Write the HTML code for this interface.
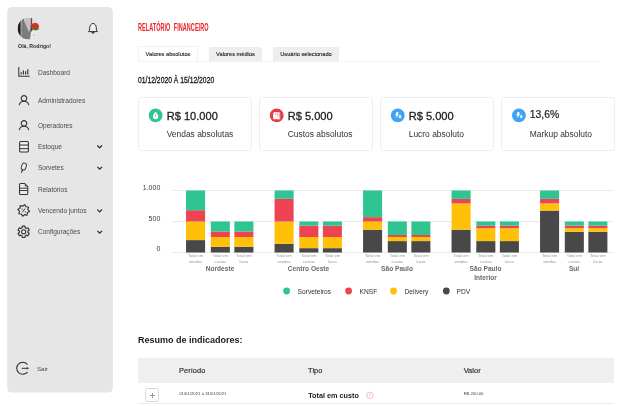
<!DOCTYPE html>
<html lang="pt-BR"><head><meta charset="utf-8"><title>Relatório financeiro</title>
<style>
html,body{margin:0;padding:0;background:#fff;}
body{width:640px;height:406px;position:relative;overflow:hidden;font-family:"Liberation Sans",sans-serif;color:#222;}
.abs,.sl,.card div{position:absolute;}
.side{position:absolute;left:7.2px;top:7.2px;width:105.6px;height:385.2px;background:#e6e6e6;border-radius:5px;}
.sl{left:37.9px;font-size:6.57px;line-height:8px;color:#4a4a4a;white-space:nowrap;}
.hello{left:18.1px;top:43.4px;font-size:5.2px;font-weight:bold;color:#2c2c2c;line-height:6px;white-space:nowrap;}
.title{left:138px;top:21.1px;font-size:10.3px;line-height:13px;font-weight:bold;color:#e8232b;white-space:nowrap;transform-origin:0 0;transform:scaleX(0.533);letter-spacing:0.1px;word-spacing:3.5px;}
.tab{top:47px;height:14px;box-sizing:border-box;font-size:5.7px;line-height:15.4px;text-align:center;color:#1c1c1c;-webkit-text-stroke:0.12px #1c1c1c;white-space:nowrap;border-radius:1.5px 1.5px 0 0;}
.tab.on{top:46px;height:15px;background:#fff;border:1px solid #f1f1f1;border-bottom:none;line-height:15.4px;}
.tab.off{background:#eeeeee;}
.tabline{left:138px;top:61px;width:463px;height:1px;background:#f3f3f3;}
.date{left:138px;top:73.65px;font-size:9.7px;line-height:12px;color:#151515;white-space:nowrap;transform-origin:0 0;transform:scaleX(0.70);-webkit-text-stroke:0.3px #151515;}
.card{position:absolute;top:97px;width:114px;height:54px;box-sizing:border-box;border:1px solid #eeeeee;border-radius:3.5px;background:#fff;}
.cv{left:27.7px;top:10.7px;font-size:11.1px;line-height:14px;color:#1c1c1c;white-space:nowrap;-webkit-text-stroke:0.28px #1c1c1c;}
.cv.pct{top:9.6px;font-size:10.4px;-webkit-text-stroke:0.2px #1c1c1c;}
.cl{left:27.7px;top:31.1px;font-size:8.45px;line-height:10px;color:#333;white-space:nowrap;}
.chart{position:absolute;left:0;top:0;}
.ax{font-size:7px;fill:#3c3c3c;font-family:"Liberation Sans",sans-serif;}
.sub{font-size:4.05px;fill:#959595;font-family:"Liberation Sans",sans-serif;}
.grp{font-size:6.6px;font-weight:bold;fill:#6a6a6a;font-family:"Liberation Sans",sans-serif;}
.leg{font-size:6.64px;fill:#333;font-family:"Liberation Sans",sans-serif;}
.h2{left:138px;top:335.1px;font-size:9px;line-height:11px;font-weight:bold;color:#1a1a1a;white-space:nowrap;}
.thead{left:138px;top:358px;width:476px;height:25px;background:#efefef;}
.th{top:366.6px;font-size:7.4px;line-height:8px;letter-spacing:0.05px;color:#2a2a2a;-webkit-text-stroke:0.15px #2a2a2a;white-space:nowrap;}
.rowline{left:138px;top:403px;width:476px;height:1px;background:#ececec;}
.plus{left:145px;top:388px;width:14px;height:14.4px;box-sizing:border-box;border:1px solid #d6d6d6;border-radius:2.5px;background:#fff;}
.plus:before{content:"";position:absolute;left:3.5px;top:5.9px;width:5px;height:0.8px;background:#9a9a9a;}
.plus:after{content:"";position:absolute;left:5.6px;top:3.8px;width:0.8px;height:5px;background:#9a9a9a;}
.tiny{font-size:4.25px;line-height:5px;color:#444;white-space:nowrap;}
.tipo{left:308.2px;top:391.5px;font-size:7.25px;line-height:8px;font-weight:bold;color:#1a1a1a;white-space:nowrap;}
</style></head><body>
<svg class="chart" width="640" height="406" viewBox="0 0 640 406"><rect x="7.2" y="7.05" width="105.7" height="385.45" rx="4.6" fill="#e6e6e6"/></svg>
<div class="abs hello">Olá, Rodrigo!</div>
<div class="sl" style="top:68.60px">Dashboard</div>
<div class="sl" style="top:96.85px">Administradores</div>
<div class="sl" style="top:121.85px">Operadores</div>
<div class="sl" style="top:142.90px">Estoque</div>
<div class="sl" style="top:164.20px">Sorvetes</div>
<div class="sl" style="top:185.60px">Relatórios</div>
<div class="sl" style="top:207.00px">Vencendo juntos</div>
<div class="sl" style="top:228.30px">Configurações</div>
<div class="sl" style="top:364.9px;left:36.9px;font-size:6.2px">Sair</div>

<div class="abs title">RELATÓRIO FINANCEIRO</div>
<div class="abs tabline"></div>
<div class="abs tab on" style="left:138px;width:60px">Valores absolutos</div>
<div class="abs tab off" style="left:209px;width:53px">Valores médios</div>
<div class="abs tab off" style="left:273px;width:66px">Usuário selecionado</div>
<div class="abs date">01/12/2020 À 15/12/2020</div>
<div class="card" style="left:138px"><div class="cv">R$ 10.000</div><div class="cl">Vendas absolutas</div></div>
<div class="card" style="left:259px"><div class="cv">R$ 5.000</div><div class="cl">Custos absolutos</div></div>
<div class="card" style="left:380px"><div class="cv">R$ 5.000</div><div class="cl">Lucro absoluto</div></div>
<div class="card" style="left:501px"><div class="cv pct">13,6%</div><div class="cl">Markup absoluto</div></div>
<svg class="chart" width="640" height="406" viewBox="0 0 640 406">
<rect x="172.5" y="190.00" width="441" height="0.8" fill="#e4e4e4"/>
<rect x="172.5" y="221.10" width="441" height="0.8" fill="#e4e4e4"/>
<rect x="172.5" y="252.20" width="441" height="0.8" fill="#e4e4e4"/>
<text x="160.3" y="189.6" text-anchor="end" class="ax">1.000</text>
<text x="160.3" y="221.0" text-anchor="end" class="ax">500</text>
<text x="160.3" y="251.3" text-anchor="end" class="ax">0</text>
<rect x="186.05" y="240.10" width="19.05" height="12.40" fill="#484848"/>
<rect x="186.05" y="221.50" width="19.05" height="18.60" fill="#ffc107"/>
<rect x="186.05" y="210.22" width="19.05" height="11.28" fill="#ee4353"/>
<rect x="186.05" y="190.50" width="19.05" height="19.72" fill="#2ec590"/>
<text x="195.58" y="257.3" text-anchor="middle" class="sub">Total em</text>
<text x="195.58" y="262.5" text-anchor="middle" class="sub">vendas</text>
<rect x="210.80" y="246.73" width="19.05" height="5.77" fill="#484848"/>
<rect x="210.80" y="237.00" width="19.05" height="9.73" fill="#ffc107"/>
<rect x="210.80" y="231.48" width="19.05" height="5.52" fill="#ee4353"/>
<rect x="210.80" y="221.50" width="19.05" height="9.98" fill="#2ec590"/>
<text x="220.33" y="257.3" text-anchor="middle" class="sub">Total em</text>
<text x="220.33" y="262.5" text-anchor="middle" class="sub">custos</text>
<rect x="234.35" y="246.73" width="19.05" height="5.77" fill="#484848"/>
<rect x="234.35" y="237.00" width="19.05" height="9.73" fill="#ffc107"/>
<rect x="234.35" y="231.48" width="19.05" height="5.52" fill="#ee4353"/>
<rect x="234.35" y="221.50" width="19.05" height="9.98" fill="#2ec590"/>
<text x="243.88" y="257.3" text-anchor="middle" class="sub">Total em</text>
<text x="243.88" y="262.5" text-anchor="middle" class="sub">lucro</text>
<text x="220.03" y="270.70" text-anchor="middle" class="grp">Nordeste</text>
<rect x="274.55" y="243.82" width="19.05" height="8.68" fill="#484848"/>
<rect x="274.55" y="221.50" width="19.05" height="22.32" fill="#ffc107"/>
<rect x="274.55" y="198.81" width="19.05" height="22.69" fill="#ee4353"/>
<rect x="274.55" y="190.50" width="19.05" height="8.31" fill="#2ec590"/>
<text x="284.07" y="257.3" text-anchor="middle" class="sub">Total em</text>
<text x="284.07" y="262.5" text-anchor="middle" class="sub">vendas</text>
<rect x="299.30" y="248.16" width="19.05" height="4.34" fill="#484848"/>
<rect x="299.30" y="237.00" width="19.05" height="11.16" fill="#ffc107"/>
<rect x="299.30" y="225.65" width="19.05" height="11.35" fill="#ee4353"/>
<rect x="299.30" y="221.50" width="19.05" height="4.15" fill="#2ec590"/>
<text x="308.82" y="257.3" text-anchor="middle" class="sub">Total em</text>
<text x="308.82" y="262.5" text-anchor="middle" class="sub">custos</text>
<rect x="322.85" y="248.16" width="19.05" height="4.34" fill="#484848"/>
<rect x="322.85" y="237.00" width="19.05" height="11.16" fill="#ffc107"/>
<rect x="322.85" y="225.65" width="19.05" height="11.35" fill="#ee4353"/>
<rect x="322.85" y="221.50" width="19.05" height="4.15" fill="#2ec590"/>
<text x="332.38" y="257.3" text-anchor="middle" class="sub">Total em</text>
<text x="332.38" y="262.5" text-anchor="middle" class="sub">lucro</text>
<text x="308.52" y="270.70" text-anchor="middle" class="grp">Centro Oeste</text>
<rect x="363.05" y="229.75" width="19.05" height="22.75" fill="#484848"/>
<rect x="363.05" y="221.50" width="19.05" height="8.25" fill="#ffc107"/>
<rect x="363.05" y="217.16" width="19.05" height="4.34" fill="#ee4353"/>
<rect x="363.05" y="190.50" width="19.05" height="26.66" fill="#2ec590"/>
<text x="372.57" y="257.3" text-anchor="middle" class="sub">Total em</text>
<text x="372.57" y="262.5" text-anchor="middle" class="sub">vendas</text>
<rect x="387.80" y="241.09" width="19.05" height="11.41" fill="#484848"/>
<rect x="387.80" y="237.00" width="19.05" height="4.09" fill="#ffc107"/>
<rect x="387.80" y="235.02" width="19.05" height="1.98" fill="#ee4353"/>
<rect x="387.80" y="221.50" width="19.05" height="13.52" fill="#2ec590"/>
<text x="397.32" y="257.3" text-anchor="middle" class="sub">Total em</text>
<text x="397.32" y="262.5" text-anchor="middle" class="sub">custos</text>
<rect x="411.35" y="241.09" width="19.05" height="11.41" fill="#484848"/>
<rect x="411.35" y="237.00" width="19.05" height="4.09" fill="#ffc107"/>
<rect x="411.35" y="235.02" width="19.05" height="1.98" fill="#ee4353"/>
<rect x="411.35" y="221.50" width="19.05" height="13.52" fill="#2ec590"/>
<text x="420.88" y="257.3" text-anchor="middle" class="sub">Total em</text>
<text x="420.88" y="262.5" text-anchor="middle" class="sub">lucro</text>
<text x="397.02" y="270.70" text-anchor="middle" class="grp">São Paulo</text>
<rect x="451.55" y="229.75" width="19.05" height="22.75" fill="#484848"/>
<rect x="451.55" y="203.40" width="19.05" height="26.35" fill="#ffc107"/>
<rect x="451.55" y="198.87" width="19.05" height="4.53" fill="#ee4353"/>
<rect x="451.55" y="190.50" width="19.05" height="8.37" fill="#2ec590"/>
<text x="461.07" y="257.3" text-anchor="middle" class="sub">Total em</text>
<text x="461.07" y="262.5" text-anchor="middle" class="sub">vendas</text>
<rect x="476.30" y="241.09" width="19.05" height="11.41" fill="#484848"/>
<rect x="476.30" y="228.13" width="19.05" height="12.96" fill="#ffc107"/>
<rect x="476.30" y="225.65" width="19.05" height="2.48" fill="#ee4353"/>
<rect x="476.30" y="221.50" width="19.05" height="4.15" fill="#2ec590"/>
<text x="485.82" y="257.3" text-anchor="middle" class="sub">Total em</text>
<text x="485.82" y="262.5" text-anchor="middle" class="sub">custos</text>
<rect x="499.85" y="241.09" width="19.05" height="11.41" fill="#484848"/>
<rect x="499.85" y="228.13" width="19.05" height="12.96" fill="#ffc107"/>
<rect x="499.85" y="225.65" width="19.05" height="2.48" fill="#ee4353"/>
<rect x="499.85" y="221.50" width="19.05" height="4.15" fill="#2ec590"/>
<text x="509.38" y="257.3" text-anchor="middle" class="sub">Total em</text>
<text x="509.38" y="262.5" text-anchor="middle" class="sub">lucro</text>
<text x="485.52" y="270.70" text-anchor="middle" class="grp">São Paulo</text>
<text x="485.52" y="280.00" text-anchor="middle" class="grp">Interior</text>
<rect x="540.05" y="210.59" width="19.05" height="41.91" fill="#484848"/>
<rect x="540.05" y="203.40" width="19.05" height="7.19" fill="#ffc107"/>
<rect x="540.05" y="198.87" width="19.05" height="4.53" fill="#ee4353"/>
<rect x="540.05" y="190.50" width="19.05" height="8.37" fill="#2ec590"/>
<text x="549.57" y="257.3" text-anchor="middle" class="sub">Total em</text>
<text x="549.57" y="262.5" text-anchor="middle" class="sub">vendas</text>
<rect x="564.80" y="231.73" width="19.05" height="20.77" fill="#484848"/>
<rect x="564.80" y="228.13" width="19.05" height="3.60" fill="#ffc107"/>
<rect x="564.80" y="225.65" width="19.05" height="2.48" fill="#ee4353"/>
<rect x="564.80" y="221.50" width="19.05" height="4.15" fill="#2ec590"/>
<text x="574.32" y="257.3" text-anchor="middle" class="sub">Total em</text>
<text x="574.32" y="262.5" text-anchor="middle" class="sub">custos</text>
<rect x="588.35" y="231.73" width="19.05" height="20.77" fill="#484848"/>
<rect x="588.35" y="228.13" width="19.05" height="3.60" fill="#ffc107"/>
<rect x="588.35" y="225.65" width="19.05" height="2.48" fill="#ee4353"/>
<rect x="588.35" y="221.50" width="19.05" height="4.15" fill="#2ec590"/>
<text x="597.87" y="257.3" text-anchor="middle" class="sub">Total em</text>
<text x="597.87" y="262.5" text-anchor="middle" class="sub">lucro</text>
<text x="574.02" y="270.70" text-anchor="middle" class="grp">Sul</text>
<circle cx="286.6" cy="291.0" r="3.4" fill="#2ec590"/>
<text x="297.6" y="293.8" class="leg">Sorveteiros</text>
<circle cx="348.6" cy="291.0" r="3.4" fill="#ee4353"/>
<text x="359.6" y="293.8" class="leg">KNSF</text>
<circle cx="393.5" cy="291.0" r="3.4" fill="#ffc107"/>
<text x="404.5" y="293.8" class="leg">Delivery</text>
<circle cx="446.3" cy="291.0" r="3.4" fill="#484848"/>
<text x="456.6" y="293.8" class="leg">PDV</text>
</svg>
<div class="abs h2">Resumo de indicadores:</div>
<div class="abs thead"></div>
<div class="abs th" style="left:179.1px">Período</div>
<div class="abs th" style="left:308.1px">Tipo</div>
<div class="abs th" style="left:463.7px">Valor</div>
<div class="abs plus"></div>
<div class="abs tiny" style="left:179.2px;top:390.8px">01/01/2021 à 31/01/2021</div>
<div class="abs tipo">Total em custo</div>
<div class="abs tiny" style="left:463.8px;top:390.8px">R$ 200,00</div>
<div class="abs rowline"></div>
<svg class="chart" width="640" height="406" viewBox="0 0 640 406">
<g transform="translate(24.0 72.0)"><path d="M-5.2 -5 V4.3 H5.7" fill="none" stroke="#333" stroke-width="1.05"/><path d="M-2.8 2.5 V0.3 M-0.6 2.5 V-1.5 M1.6 2.5 V-0.7 M3.8 2.5 V-2.7" fill="none" stroke="#333" stroke-width="1.15"/></g>
<g transform="translate(24.0 100.2)"><circle cx="0" cy="-1.85" r="2.75" fill="none" stroke="#333" stroke-width="1.1"/><path d="M-4.7 4.5 A4.9 4.9 0 0 1 4.7 4.5" fill="none" stroke="#333" stroke-width="1.1" stroke-linecap="round"/></g>
<g transform="translate(24.0 125.2)"><circle cx="0" cy="-1.85" r="2.75" fill="none" stroke="#333" stroke-width="1.1"/><path d="M-4.7 4.5 A4.9 4.9 0 0 1 4.7 4.5" fill="none" stroke="#333" stroke-width="1.1" stroke-linecap="round"/></g>
<g transform="translate(24.0 146.75)"><rect x="-4.35" y="-5.3" width="8.7" height="10.6" rx="1" fill="#e9e9e9" stroke="#333" stroke-width="1.05"/><path d="M-4.3 -1.7 H4.3 M-4.3 1.95 H4.3" fill="none" stroke="#333" stroke-width="1"/><path d="M-1.6 -3.5 H2.9 M-1.6 0.1 H2.9 M-1.6 3.7 H2.9" stroke="#f6f6f6" stroke-width="0.9" fill="none"/><circle cx="-2.8" cy="-3.5" r="0.55" fill="#f6f6f6"/><circle cx="-2.8" cy="0.1" r="0.55" fill="#f6f6f6"/><circle cx="-2.8" cy="3.7" r="0.55" fill="#f6f6f6"/></g>
<g transform="translate(99.7 146.7)"><path d="M-2.05 -0.95 L0 1.1 L2.05 -0.95" fill="none" stroke="#222" stroke-width="1.15" stroke-linecap="round" stroke-linejoin="round"/></g>
<g transform="translate(23.7 167.9)"><rect x="-2.2" y="-3.4" width="4.4" height="6.8" rx="1.8" transform="translate(0.15 -1.4) rotate(21)" fill="#ececec" stroke="#333" stroke-width="0.9"/><path d="M-1.15 1.9 L-2.2 4.3" fill="none" stroke="#333" stroke-width="1.15" stroke-linecap="round"/></g>
<g transform="translate(99.7 168.0)"><path d="M-2.05 -0.95 L0 1.1 L2.05 -0.95" fill="none" stroke="#222" stroke-width="1.15" stroke-linecap="round" stroke-linejoin="round"/></g>
<g transform="translate(23.65 189.0)"><path d="M-4.1 -4.4 A1.1 1.1 0 0 1 -3 -5.5 H1.1 L4.1 -2.5 V4.4 A1.1 1.1 0 0 1 3 5.5 H-3 A1.1 1.1 0 0 1 -4.1 4.4Z" fill="#ececec" stroke="#333" stroke-width="1.05" stroke-linejoin="round"/><path d="M1.1 -5.5 L4.1 -2.5 H1.1Z" fill="#333" opacity="0.75"/><path d="M-4.1 -0.8 H4.1 M-4.1 1.5 H4.1" fill="none" stroke="#333" stroke-width="0.95"/></g>
<g transform="translate(23.65 210.4)"><path d="M1.02 -5.81 L2.31 -3.63 L4.83 -3.38 L4.20 -0.93 L5.81 1.02 L3.63 2.31 L3.38 4.83 L0.93 4.20 L-1.02 5.81 L-2.31 3.63 L-4.83 3.38 L-4.20 0.93 L-5.81 -1.02 L-3.63 -2.31 L-3.38 -4.83 L-0.93 -4.20Z" fill="none" stroke="#333" stroke-width="1.15" stroke-linejoin="round"/><path d="M-1.5 1.9 L1.5 -1.9" fill="none" stroke="#333" stroke-width="0.9"/><circle cx="-1.5" cy="-1.3" r="0.65" fill="#333"/><circle cx="1.6" cy="1.4" r="0.65" fill="#333"/></g>
<g transform="translate(99.7 210.79999999999998)"><path d="M-2.05 -0.95 L0 1.1 L2.05 -0.95" fill="none" stroke="#222" stroke-width="1.15" stroke-linecap="round" stroke-linejoin="round"/></g>
<g transform="translate(23.65 231.8)"><path d="M-1.49 -4.09 L-1.32 -5.70 L1.32 -5.70 L1.49 -4.09 L2.80 -3.33 L4.28 -3.99 L5.59 -1.71 L4.28 -0.76 L4.28 0.76 L5.59 1.71 L4.28 3.99 L2.80 3.33 L1.49 4.09 L1.32 5.70 L-1.32 5.70 L-1.49 4.09 L-2.80 3.33 L-4.28 3.99 L-5.59 1.71 L-4.28 0.76 L-4.28 -0.76 L-5.59 -1.71 L-4.28 -3.99 L-2.80 -3.33Z" fill="none" stroke="#333" stroke-width="1.15" stroke-linejoin="round"/><circle r="2.1" fill="#f0f0f0" stroke="#333" stroke-width="1.1"/></g>
<g transform="translate(99.7 232.1)"><path d="M-2.05 -0.95 L0 1.1 L2.05 -0.95" fill="none" stroke="#222" stroke-width="1.15" stroke-linecap="round" stroke-linejoin="round"/></g>
<g transform="translate(93.0 28.6)"><path d="M-4.5 3 H4.5 C3.4 2.1 3.3 1 3.3 -1 C3.3 -3.4 1.8 -4.6 0 -5.3 C-1.8 -4.6 -3.3 -3.4 -3.3 -1 C-3.3 1 -3.4 2.1 -4.5 3Z" fill="#f0f0f0" stroke="#2a2a2a" stroke-width="0.95" stroke-linejoin="round"/><path d="M-1.5 3.6 L0 5.2 L1.5 3.6Z" fill="#2a2a2a" stroke="#2a2a2a" stroke-width="0.5" stroke-linejoin="round"/></g>
<g transform="translate(22.7 368.3)"><path d="M4.5 -4 A6 6 0 1 0 4.5 4" fill="none" stroke="#2a2a2a" stroke-width="1.05" stroke-linecap="round"/><path d="M-0.5 0 H4.6" fill="none" stroke="#2a2a2a" stroke-width="0.95" stroke-linecap="round"/><path d="M4.2 -1.3 L6.2 0 L4.2 1.3Z" fill="#2a2a2a"/></g>
<defs><clipPath id="av"><circle cx="11" cy="11" r="10.8"/></clipPath></defs>
<g transform="translate(17.5 17.5)" clip-path="url(#av)">
<rect width="22" height="22" fill="#c2c2c2"/>
<rect x="0" y="0" width="3.2" height="22" fill="#1c1c1c"/>
<rect x="3.2" y="0" width="1.9" height="22" fill="#969696"/>
<rect x="5.1" y="0" width="1.2" height="22" fill="#4a4a4a"/>
<path d="M5.6 1.5 L11.6 14.8 L13.5 8 L13.5 22 L5.6 22Z" fill="#7c7c7c"/>
<rect x="13.4" y="0" width="1.3" height="14.4" fill="#4c4c4c"/>
<rect x="14.7" y="0" width="8" height="22" fill="#dedede"/>
<path d="M13.5 14 L22 12.5 V22 H12.5Z" fill="#eaeaea"/>
<path d="M12.6 8.9 C13.2 6.3 16 5 18.6 5.6 C20.6 6.1 21.6 7.8 21.6 9.4 L13 9.6Z" fill="#ea2630"/>
<path d="M14.2 9.2 H21 V12 C19.5 13 16 13 14.2 12Z" fill="#4a3a22"/>
<path d="M15 9.6 L16 12.4 M17.2 9.4 L17.8 12.6 M19.2 9.4 L19.9 12.2" stroke="#e3b83e" stroke-width="0.7"/>
<path d="M15.8 17.8 L17 16.6 L17.2 18.4Z" fill="#f08aa4"/>
</g>
<g transform="translate(155.6 115.45)"><circle r="6.9" fill="#2ec590"/><path d="M0 -3.7 C1.4 -1.9 2.7 -0.4 2.7 1 A2.7 2.7 0 0 1 -2.7 1 C-2.7 -0.4 -1.4 -1.9 0 -3.7Z" fill="#fff"/><path d="M0 -1.6 V1.3" stroke="#2ec590" stroke-width="0.7"/></g>
<g transform="translate(276.7 115.45)"><circle r="6.9" fill="#ec3b47"/><path d="M-3.5 -1.4 A2 2 0 0 1 -1.5 -3.4 H1.5 A2 2 0 0 1 3.5 -1.4 V3.2 A0.5 0.5 0 0 1 3 3.7 H-3 A0.5 0.5 0 0 1 -3.5 3.2Z" fill="#fff"/><path d="M-1 -0.2 V-1.8 L-0.2 -2.8 M1.2 -3 V0.8 M3 -1.6 V2.6" stroke="#ec3b47" stroke-width="0.6" fill="none"/></g>
<g transform="translate(397.75 115.45)"><circle r="6.9" fill="#3fa2f7"/><path d="M-1.2 -3.5 L0.8 -3.5 L0.1 -1.5 L1.2 -1.5 L-1.6 2.9 L-1.1 0 L-2.6 0Z" fill="#fff"/><path d="M2.3 -1.3 C3 -0.3 3.7 0.6 3.7 1.5 A1.4 1.4 0 0 1 0.9 1.5 C0.9 0.6 1.6 -0.3 2.3 -1.3Z" fill="#fff" opacity="0.85"/></g>
<g transform="translate(518.9 115.45)"><circle r="6.9" fill="#3fa2f7"/><path d="M-1.2 -3.5 L0.8 -3.5 L0.1 -1.5 L1.2 -1.5 L-1.6 2.9 L-1.1 0 L-2.6 0Z" fill="#fff"/><path d="M2.3 -1.3 C3 -0.3 3.7 0.6 3.7 1.5 A1.4 1.4 0 0 1 0.9 1.5 C0.9 0.6 1.6 -0.3 2.3 -1.3Z" fill="#fff" opacity="0.85"/></g>
<g transform="translate(369.9 395.3)"><circle r="3.2" fill="none" stroke="#f28c8c" stroke-width="0.6"/><path d="M0 -1.6 V0.5 M0 1.2 V1.8" fill="none" stroke="#f28c8c" stroke-width="0.6"/></g>
</svg>
</body></html>
